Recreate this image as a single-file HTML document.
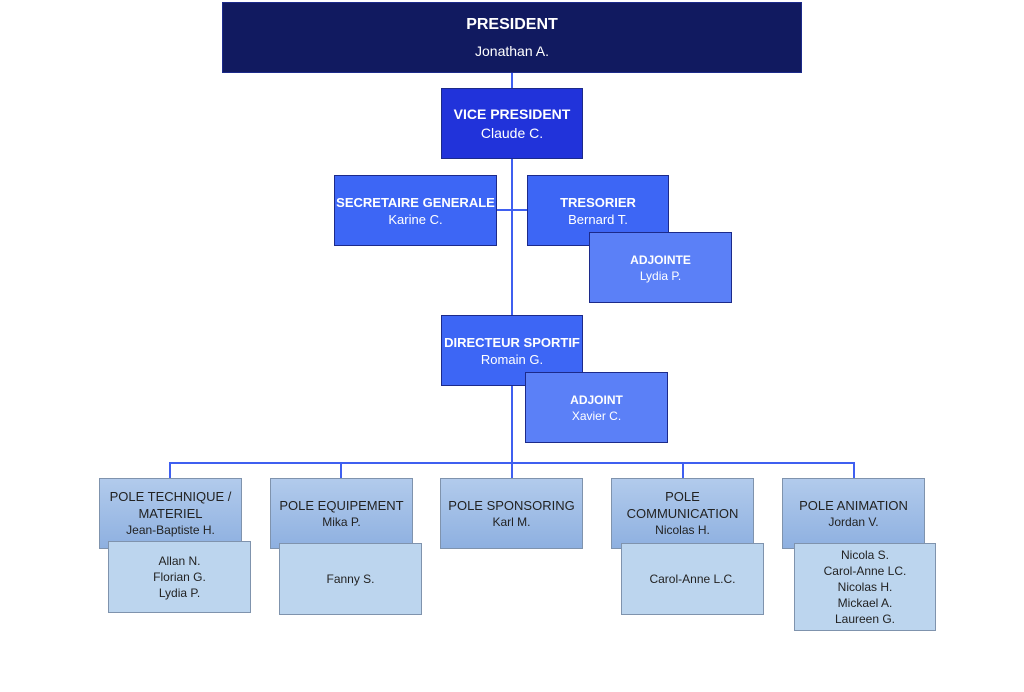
<!DOCTYPE html>
<html><head><meta charset="utf-8"><style>
body{margin:0;width:1024px;height:692px;background:#fff;position:relative;overflow:hidden;font-family:"Liberation Sans",sans-serif}
.b{position:absolute;box-sizing:border-box;display:flex;flex-direction:column;justify-content:center;align-items:center;text-align:center;font-size:13px;line-height:17px}
.d{color:#fff;border:1px solid #1c2a8a}
.d b{font-weight:bold}
.p{color:#222;background:linear-gradient(#b2cbec,#8eb0e0);border:1px solid #7f93ad}
.s{color:#222;background:#bcd5ee;border:1px solid #7f93ad}
.l{position:absolute;background:#3f5ff0}
</style></head><body>
<div class="l" style="left:511px;top:72px;width:2px;height:392px"></div>
<div class="l" style="left:496px;top:209px;width:31px;height:2px"></div>
<div class="l" style="left:169px;top:462px;width:686px;height:2px"></div>
<div class="l" style="left:169px;top:462px;width:2px;height:16px"></div>
<div class="l" style="left:340px;top:462px;width:2px;height:16px"></div>
<div class="l" style="left:511px;top:462px;width:2px;height:16px"></div>
<div class="l" style="left:682px;top:462px;width:2px;height:16px"></div>
<div class="l" style="left:853px;top:462px;width:2px;height:16px"></div>

<div class="b d" style="left:222px;top:2px;width:580px;height:71px;background:#111a60;font-size:16px;line-height:26px"><b>PRESIDENT</b><span style="font-size:14px">Jonathan A.</span></div>
<div class="b d" style="left:441px;top:88px;width:142px;height:71px;background:#2133da;font-size:14px;line-height:19px"><b>VICE PRESIDENT</b>Claude C.</div>
<div class="b d" style="left:334px;top:175px;width:163px;height:71px;background:#3d66f5"><b>SECRETAIRE GENERALE</b>Karine C.</div>
<div class="b d" style="left:527px;top:175px;width:142px;height:71px;background:#3d66f5"><b>TRESORIER</b>Bernard T.</div>
<div class="b d" style="left:589px;top:232px;width:143px;height:71px;background:#5b80f7;font-size:12px;line-height:16px"><b>ADJOINTE</b>Lydia P.</div>
<div class="b d" style="left:441px;top:315px;width:142px;height:71px;background:#3d66f5"><b>DIRECTEUR SPORTIF</b>Romain G.</div>
<div class="b d" style="left:525px;top:372px;width:143px;height:71px;background:#5b80f7;font-size:12px;line-height:16px"><b>ADJOINT</b>Xavier C.</div>

<div class="b p" style="left:99px;top:478px;width:143px;height:71px;justify-content:flex-start;padding-top:9px">POLE TECHNIQUE /<br>MATERIEL<br><span style="font-size:12px">Jean-Baptiste H.</span></div>
<div class="b p" style="left:270px;top:478px;width:143px;height:71px">POLE EQUIPEMENT<br><span style="font-size:12px">Mika P.</span></div>
<div class="b p" style="left:440px;top:478px;width:143px;height:71px">POLE SPONSORING<br><span style="font-size:12px">Karl M.</span></div>
<div class="b p" style="left:611px;top:478px;width:143px;height:71px;justify-content:flex-start;padding-top:9px">POLE<br>COMMUNICATION<br><span style="font-size:12px">Nicolas H.</span></div>
<div class="b p" style="left:782px;top:478px;width:143px;height:71px">POLE ANIMATION<br><span style="font-size:12px">Jordan V.</span></div>

<div class="b s" style="left:108px;top:541px;width:143px;height:72px;font-size:12px;line-height:16px">Allan N.<br>Florian G.<br>Lydia P.</div>
<div class="b s" style="left:279px;top:543px;width:143px;height:72px;font-size:12px">Fanny S.</div>
<div class="b s" style="left:621px;top:543px;width:143px;height:72px;font-size:12px">Carol-Anne L.C.</div>
<div class="b s" style="left:794px;top:543px;width:142px;height:88px;font-size:12px;line-height:16px">Nicola S.<br>Carol-Anne LC.<br>Nicolas H.<br>Mickael A.<br>Laureen G.</div>
</body></html>
